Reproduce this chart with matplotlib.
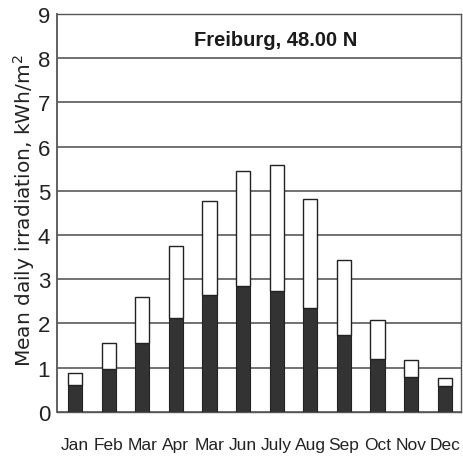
import numpy as np
import matplotlib
matplotlib.use("Agg")
import matplotlib.pyplot as plt

months = ["Jan", "Feb", "Mar", "Apr", "Mar", "Jun", "July", "Aug", "Sep", "Oct", "Nov", "Dec"]
# total daily irradiation and the lower (dark) component, kWh/m2
total = [0.88, 1.56, 2.61, 3.75, 4.76, 5.45, 5.59, 4.82, 3.44, 2.08, 1.18, 0.77]
dark = [0.62, 0.97, 1.56, 2.13, 2.65, 2.84, 2.73, 2.35, 1.74, 1.20, 0.78, 0.58]
yticks = list(range(0, 10))

narrow = ["Liberation Sans Narrow", "Liberation Sans", "DejaVu Sans"]

fig = plt.figure(figsize=(4.63, 4.64), dpi=100)
ax = fig.add_axes([0.123, 0.110, 0.873, 0.858])

x = np.arange(len(months))
upper = np.array(total) - np.array(dark)
ax.bar(x, dark, width=0.42, color="#333333", edgecolor="#222222", linewidth=0.8, zorder=3)
ax.bar(x, upper, bottom=dark, width=0.42, color="white", edgecolor="#222222", linewidth=1.0, zorder=3)

ax.set_xlim(-0.54, 11.49)
ax.set_ylim(0, 9)
ax.set_yticks(yticks)
ax.set_yticklabels([str(t) for t in yticks], family=narrow, fontsize=16, color="#222222")
ax.set_xticks(x)
ax.set_xticklabels(months, family=narrow, fontsize=12.5, color="#222222")
ax.tick_params(axis="x", length=0, pad=18)
ax.tick_params(axis="y", length=0, pad=5)

ax.grid(axis="y", color="#666666", linewidth=1.3, zorder=0)
for s in ax.spines.values():
    s.set_color("#555555")
    s.set_linewidth(1.0)
ax.spines["left"].set_linewidth(1.3)

ax.set_ylabel("Mean daily irradiation, kWh/m$^2$", fontsize=14.5, color="#222222")
ax.yaxis.set_label_coords(-0.050, 0.508)

ax.text(0.542, 0.935, "Freiburg, 48.00 N", transform=ax.transAxes, ha="center", va="center",
        family=narrow, fontsize=14.5, fontweight="bold", color="#1a1a1a")

fig.savefig("out.png", dpi=100)
